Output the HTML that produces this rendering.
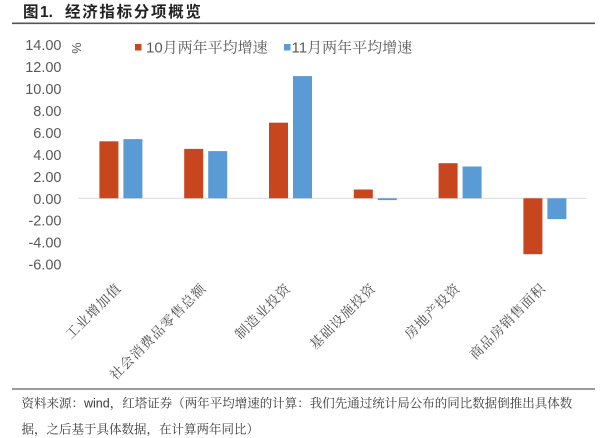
<!DOCTYPE html>
<html><head><meta charset="utf-8">
<style>
html,body{margin:0;padding:0;background:#fff;}
svg{display:block;}
</style></head>
<body>
<svg width="600" height="438" viewBox="0 0 600 438" xmlns="http://www.w3.org/2000/svg">
<rect width="600" height="438" fill="#fff"/>
<!-- title -->
<g font-family="'Liberation Sans','Noto Sans CJK SC',sans-serif" font-weight="bold" fill="#222" font-size="15.5">
<text x="23" y="17">图</text>
<text x="40" y="17">1.</text>
<text x="65" y="17" letter-spacing="1.7">经济指标分项概览</text>
</g>
<line x1="12" y1="23.3" x2="595" y2="23.3" stroke="#555" stroke-width="1.6"/>

<!-- y axis labels -->
<g font-family="'Liberation Sans',sans-serif" font-size="14.5" fill="#595959" text-anchor="end">
<text x="61.5" y="50.2">14.00</text>
<text x="61.5" y="72.1">12.00</text>
<text x="61.5" y="94.1">10.00</text>
<text x="61.5" y="116.0">8.00</text>
<text x="61.5" y="138.0">6.00</text>
<text x="61.5" y="159.9">4.00</text>
<text x="61.5" y="181.8">2.00</text>
<text x="61.5" y="203.8">0.00</text>
<text x="61.5" y="225.7">-2.00</text>
<text x="61.5" y="247.7">-4.00</text>
<text x="61.5" y="269.6">-6.00</text>
</g>
<text x="77" y="52" font-family="'Liberation Sans',sans-serif" font-size="12.5" fill="#595959" text-anchor="middle" transform="rotate(-90 77 48)">%</text>

<!-- legend -->
<rect x="135" y="44" width="6.5" height="6.5" fill="#C8461E"/>
<text x="146" y="52.5" font-family="'Liberation Sans','Noto Serif CJK SC',serif" font-size="15" fill="#595959">10月两年平均增速</text>
<rect x="284" y="44" width="6.5" height="6.5" fill="#5B9BD5"/>
<text x="291.5" y="52.5" font-family="'Liberation Sans','Noto Serif CJK SC',serif" font-size="15" fill="#595959">11月两年平均增速</text>

<!-- zero axis -->
<line x1="78" y1="198.3" x2="587" y2="198.3" stroke="#D9D9D9" stroke-width="1"/>

<!-- bars -->
<g fill="#C8461E">
<rect x="99.4" y="141.3" width="19" height="57"/>
<rect x="184.2" y="148.9" width="19" height="49.4"/>
<rect x="269" y="122.7" width="19" height="75.6"/>
<rect x="353.8" y="189.5" width="19" height="8.8"/>
<rect x="438.6" y="163.2" width="19" height="35.1"/>
<rect x="523.4" y="198.3" width="19" height="55.9"/>
</g>
<g fill="#5B9BD5">
<rect x="123.4" y="139.1" width="19" height="59.2"/>
<rect x="208.2" y="151.1" width="19" height="47.2"/>
<rect x="293" y="76.1" width="19" height="122.2"/>
<rect x="377.8" y="198.3" width="19" height="1.8"/>
<rect x="462.6" y="166.5" width="19" height="31.8"/>
<rect x="547.4" y="198.3" width="19" height="20.8"/>
</g>

<!-- x labels -->
<g font-family="'Liberation Serif','Noto Serif CJK SC',serif" font-size="13.5" fill="#4a4a4a" text-anchor="end" letter-spacing="0.9">
<text x="122" y="289" transform="rotate(-45 122 289)">工业增加值</text>
<text x="207" y="289" transform="rotate(-45 207 289)">社会消费品零售总额</text>
<text x="291.5" y="289" transform="rotate(-45 291.5 289)">制造业投资</text>
<text x="376.5" y="289" transform="rotate(-45 376.5 289)">基础设施投资</text>
<text x="461" y="289" transform="rotate(-45 461 289)">房地产投资</text>
<text x="546.5" y="289" transform="rotate(-45 546.5 289)">商品房销售面积</text>
</g>

<!-- footer -->
<line x1="12" y1="389" x2="595" y2="389" stroke="#7a7a7a" stroke-width="1.5"/>
<g font-family="'Liberation Sans','Noto Serif CJK SC',serif" font-size="12.5" fill="#3a3a3a">
<text x="21.5" y="407.5">资料来源：wind，红塔证券（两年平均增速的计算：我们先通过统计局公布的同比数据倒推出具体数</text>
<text x="21.5" y="433.5">据，之后基于具体数据，在计算两年同比）</text>
</g>
</svg>
</body></html>
